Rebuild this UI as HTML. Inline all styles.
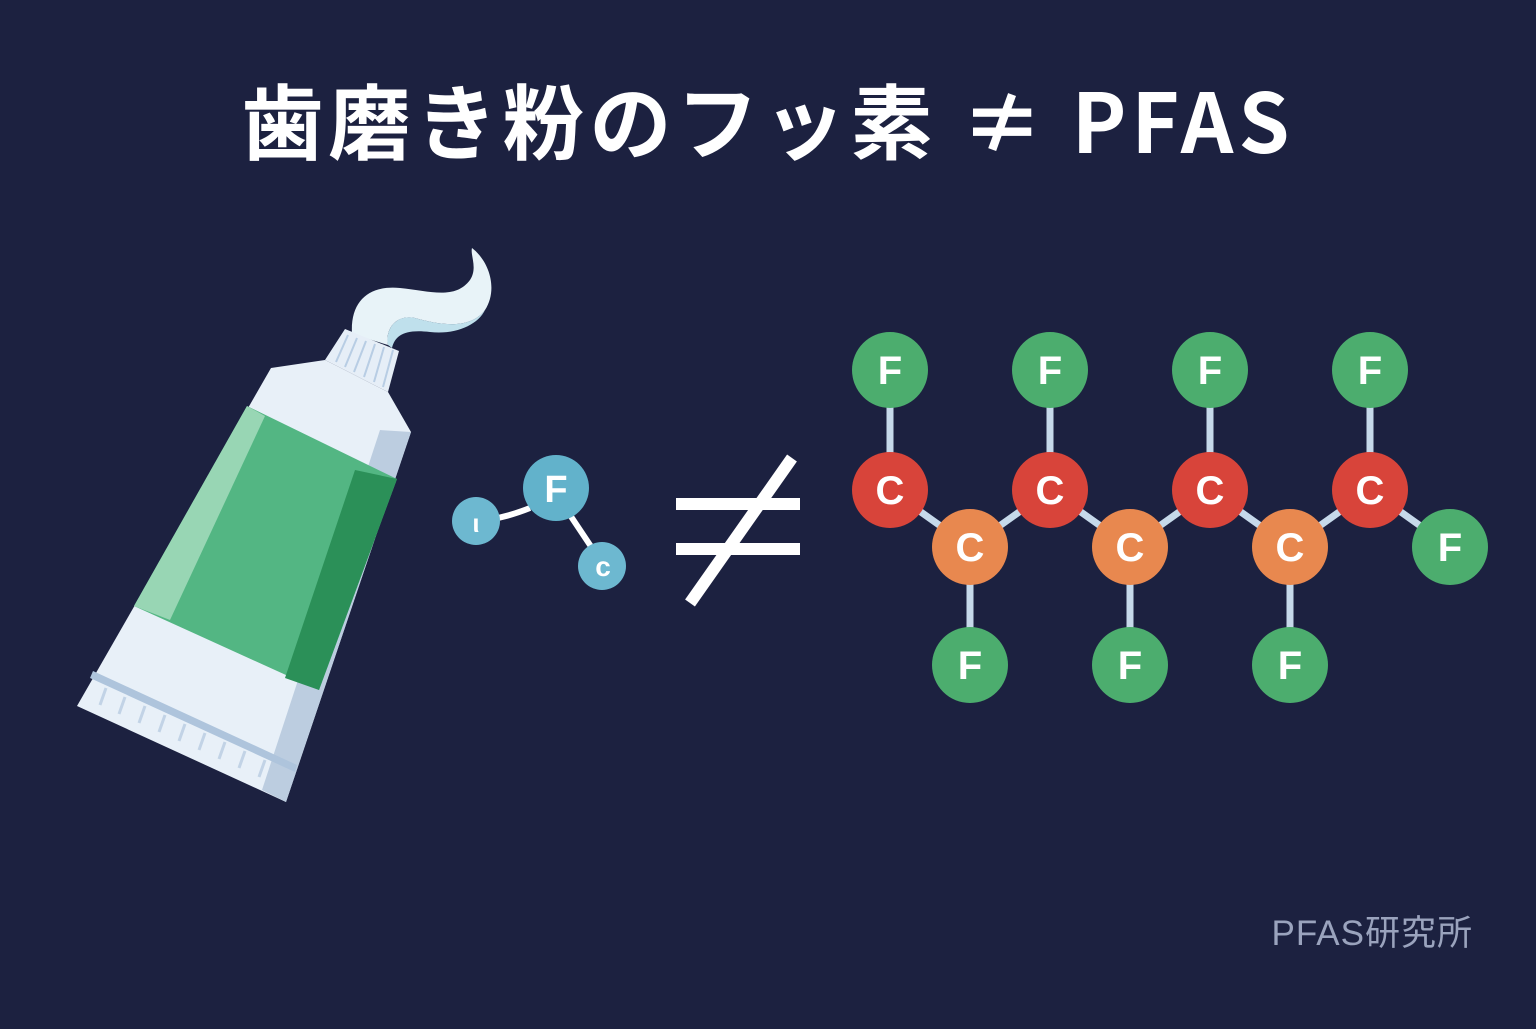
<!DOCTYPE html>
<html><head><meta charset="utf-8"><style>
html,body{margin:0;padding:0;background:#1c2140;}
body{width:1536px;height:1024px;overflow:hidden;position:relative;font-family:"Liberation Sans","Noto Sans CJK JP",sans-serif;}
</style></head><body>
<svg width="1536" height="1024" viewBox="0 0 1536 1024" xmlns="http://www.w3.org/2000/svg">
<rect width="1536" height="1024" fill="#1c2140"/>
<text x="768" y="153" text-anchor="middle" font-family="'Noto Sans CJK JP',sans-serif" font-weight="bold" font-size="82" letter-spacing="5" fill="#ffffff">歯磨き粉のフッ素 ≠ PFAS</text>
<!-- toothpaste ribbon -->
<path d="M352,334 C350,300 370,285 400,288 C430,291 455,300 470,280 C478,268 470,255 472,248 C490,262 498,290 485,310 C470,330 440,325 415,318 C395,314 385,330 388,345 Z" fill="#e8f3f8"/>
<path d="M388,345 C385,330 395,314 415,318 C440,325 470,330 485,310 C478,325 455,335 430,332 C405,329 395,335 392,348 Z" fill="#bfe0ec"/>
<!-- cap -->
<polygon points="345,329 399,351 388,392 325,360" fill="#e6eef7"/>
<g stroke="#b8cde4" stroke-width="2">
<line x1="348" y1="335" x2="336" y2="362"/><line x1="357" y1="338" x2="345" y2="367"/><line x1="366" y1="341" x2="354" y2="372"/><line x1="375" y1="344" x2="364" y2="377"/><line x1="384" y1="347" x2="374" y2="382"/><line x1="393" y1="350" x2="383" y2="387"/>
</g>
<!-- body -->
<polygon points="325,360 388,392 411,432 286,802 77,706 271,368" fill="#e8f0f8"/>
<polygon points="380,430 411,432 286,802 262,790" fill="#bccde0"/>
<polygon points="247,406 397,479 319,690 134,606" fill="#53b683"/>
<polygon points="355,470 397,479 319,690 285,678" fill="#2b9058"/>
<polygon points="247,406 265,416 170,620 134,606" fill="#98d6b4"/>
<polygon points="93,671 297,765 295,772 90,678" fill="#aec4dc"/>
<g stroke="#c2d3e6" stroke-width="3">
<line x1="106" y1="688" x2="100" y2="705"/><line x1="125" y1="697" x2="119" y2="714"/><line x1="145" y1="706" x2="139" y2="723"/><line x1="165" y1="715" x2="159" y2="732"/><line x1="185" y1="724" x2="179" y2="741"/><line x1="205" y1="733" x2="199" y2="750"/><line x1="225" y1="742" x2="219" y2="759"/><line x1="245" y1="751" x2="239" y2="768"/><line x1="265" y1="760" x2="259" y2="777"/>
</g>
<!-- small molecule -->
<g stroke="#ffffff" stroke-width="6" fill="none"><path d="M478,520 Q500,520 530,508"/><line x1="570" y1="515" x2="592" y2="548"/></g>
<circle cx="476" cy="521" r="24" fill="#6db8d0"/>
<circle cx="556" cy="488" r="33" fill="#62b2cb"/>
<circle cx="602" cy="566" r="24" fill="#6db8d0"/>
<text x="556" y="502" text-anchor="middle" font-weight="bold" font-size="38" fill="#fff">F</text>
<text x="476" y="532" text-anchor="middle" font-weight="bold" font-size="26" fill="#fff">ι</text>
<text x="603" y="576" text-anchor="middle" font-weight="bold" font-size="28" fill="#fff">c</text>
<!-- not equal -->
<g stroke="#ffffff" stroke-width="12"><line x1="676" y1="504" x2="800" y2="504"/><line x1="676" y1="549" x2="800" y2="549"/><line x1="792" y1="458" x2="690" y2="603"/></g>
<!-- PFAS chain -->
<g stroke="#c6d9ea" stroke-width="7">
<polyline points="890,490 970,547 1050,490 1130,547 1210,490 1290,547 1370,490 1450,547" fill="none"/>
<line x1="890" y1="370" x2="890" y2="490"/><line x1="1050" y1="370" x2="1050" y2="490"/><line x1="1210" y1="370" x2="1210" y2="490"/><line x1="1370" y1="370" x2="1370" y2="490"/>
<line x1="970" y1="547" x2="970" y2="665"/><line x1="1130" y1="547" x2="1130" y2="665"/><line x1="1290" y1="547" x2="1290" y2="665"/>
</g>
<g font-weight="bold" font-size="40" fill="#fff" text-anchor="middle">
<g fill="#4cad6e"><circle cx="890" cy="370" r="38"/><circle cx="1050" cy="370" r="38"/><circle cx="1210" cy="370" r="38"/><circle cx="1370" cy="370" r="38"/><circle cx="970" cy="665" r="38"/><circle cx="1130" cy="665" r="38"/><circle cx="1290" cy="665" r="38"/><circle cx="1450" cy="547" r="38"/></g>
<g fill="#d8443a"><circle cx="890" cy="490" r="38"/><circle cx="1050" cy="490" r="38"/><circle cx="1210" cy="490" r="38"/><circle cx="1370" cy="490" r="38"/></g>
<g fill="#e8884f"><circle cx="970" cy="547" r="38"/><circle cx="1130" cy="547" r="38"/><circle cx="1290" cy="547" r="38"/></g>
<text x="890" y="384">F</text><text x="1050" y="384">F</text><text x="1210" y="384">F</text><text x="1370" y="384">F</text>
<text x="970" y="679">F</text><text x="1130" y="679">F</text><text x="1290" y="679">F</text><text x="1450" y="561">F</text>
<text x="890" y="504">C</text><text x="1050" y="504">C</text><text x="1210" y="504">C</text><text x="1370" y="504">C</text>
<text x="970" y="561">C</text><text x="1130" y="561">C</text><text x="1290" y="561">C</text>
</g>
<text x="1473" y="945" text-anchor="end" font-family="'Liberation Sans','Noto Sans CJK JP',sans-serif" font-size="35" letter-spacing="1" fill="#9aa3bd">PFAS研究所</text>
</svg>
</body></html>
